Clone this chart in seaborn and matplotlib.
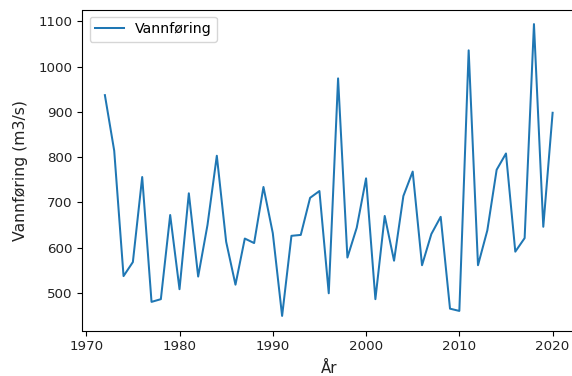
import matplotlib
matplotlib.use("Agg")
import matplotlib.pyplot as plt
import seaborn as sns
import pandas as pd

years = list(range(1972, 2021))
vannforing = [937, 814, 537, 568, 756, 480, 486, 672, 508, 720,
              536, 650, 803, 613, 518, 620, 610, 734, 632, 449,
              626, 628, 710, 725, 499, 974, 578, 644, 753, 486,
              670, 571, 714, 768, 561, 630, 668, 465, 460, 1036,
              561, 638, 772, 808, 591, 621, 1094, 646, 898]

df = pd.DataFrame({"År": years, "Vannføring": vannforing})

plt.rcParams['font.family'] = ['DejaVu Sans']
plt.rcParams['font.size'] = 9.6

fig = plt.figure(figsize=(5.72, 3.76), dpi=100)
W, H = 572, 376
left, right, top, bottom = 82.5, 575, 9.5, 330.5
ax = fig.add_axes([left / W, 1 - bottom / H, (right - left) / W, (bottom - top) / H])

sns.lineplot(data=df, x="År", y="Vannføring", ax=ax, color="#1f77b4",
             linewidth=1.45, label="Vannføring")

ax.set_xlabel("År", fontsize=10.8, labelpad=5.5, color="#222222")
ax.set_ylabel("Vannføring (m3/s)", fontsize=11.3, labelpad=7.5, color="#222222")
ax.set_xticks([1970, 1980, 1990, 2000, 2010, 2020])
ax.set_yticks([500, 600, 700, 800, 900, 1000, 1100])
ax.tick_params(labelsize=9.6, labelcolor="#222222")
ax.legend(loc="upper left", fontsize=10.2)

fig.savefig("out.png", dpi=100)
